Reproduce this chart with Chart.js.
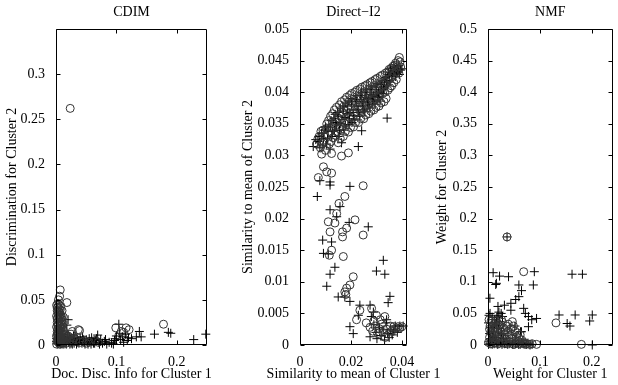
<!DOCTYPE html>
<html><head><meta charset="utf-8">
<script src="https://cdn.jsdelivr.net/npm/chart.js@4/dist/chart.umd.min.js"></script>
<style>
html,body{margin:0;padding:0;background:#fff;width:618px;height:385px;overflow:hidden}
canvas{position:absolute;left:0;top:0}
</style></head><body>
<canvas id="c1" width="618" height="385"></canvas>
<canvas id="c2" width="618" height="385"></canvas>
<canvas id="c3" width="618" height="385"></canvas>
<script>
const titles = ["CDIM", "Direct\u2212I2", "NMF"];
const xLabels = ["Doc. Disc. Info for Cluster 1", "Similarity to mean of Cluster 1", "Weight for Cluster 1"];
const yLabels = ["Discrimination for Cluster 2", "Similarity to mean of Cluster 2", "Weight for Cluster 2"];

const cdimCircles = [[0.0235,0.262],[0.007,0.061],[0.006,0.054],[0.018,0.047],[0.004,0.050],[0.039,0.016],[0.037,0.017],[0.027,0.015],
[0.099,0.019],[0.116,0.019],[0.121,0.017],[0.108,0.015],[0.178,0.023],[0.112,0.014],
[0.001,0.044],[0.003,0.042],[0.005,0.040],[0.002,0.038],[0.006,0.036],[0.004,0.034],[0.008,0.033],[0.001,0.032],[0.003,0.030],[0.007,0.029],
[0.005,0.027],[0.009,0.026],[0.002,0.025],[0.004,0.023],[0.010,0.022],[0.006,0.021],[0.001,0.020],[0.008,0.019],[0.003,0.018],[0.011,0.017],
[0.005,0.016],[0.002,0.015],[0.009,0.014],[0.007,0.013],[0.013,0.012],[0.004,0.011],[0.001,0.010],[0.012,0.009],[0.006,0.008],[0.015,0.008],
[0.003,0.007],[0.010,0.006],[0.018,0.006],[0.002,0.005],[0.007,0.004],[0.014,0.004],[0.022,0.005],[0.004,0.003],[0.011,0.002],[0.017,0.002],
[0.001,0.001],[0.006,0.001],[0.026,0.003],[0.012,0.031],[0.010,0.038],[0.008,0.043],[0.020,0.010],[0.025,0.012],[0.030,0.008],
[0.033,0.006],[0.045,0.004],[0.055,0.003],[0.065,0.005],[0.070,0.003],
[0.002,0.041],[0.004,0.037],[0.006,0.033],[0.002,0.029],[0.005,0.031],[0.007,0.025],[0.003,0.022],[0.008,0.023],[0.006,0.018],[0.004,0.014],
[0.008,0.011],[0.002,0.012],[0.005,0.009],[0.009,0.007],[0.003,0.005],[0.006,0.003],[0.008,0.002],[0.003,0.046],[0.005,0.044],[0.007,0.039],
[0.009,0.031],[0.010,0.028],[0.011,0.020],[0.013,0.015],[0.016,0.011],[0.019,0.009],[0.014,0.006],[0.024,0.008],[0.028,0.005],[0.040,0.003],[0.050,0.002]];
const cdimPluses = [[0.020,0.028],[0.018,0.022],[0.010,0.012],[0.015,0.008],
[0.002,0.002],[0.005,0.006],[0.008,0.003],[0.011,0.008],[0.013,0.001],[0.016,0.005],[0.019,0.009],[0.021,0.003],[0.024,0.006],[0.027,0.001],
[0.029,0.010],[0.032,0.004],[0.035,0.007],[0.038,0.002],[0.041,0.005],[0.044,0.009],[0.047,0.003],[0.050,0.006],[0.053,0.001],[0.056,0.004],
[0.059,0.008],[0.062,0.002],[0.065,0.005],[0.069,0.011],[0.071,0.003],[0.074,0.006],[0.077,0.002],[0.080,0.004],[0.084,0.001],[0.088,0.003],
[0.092,0.002],[0.097,0.005],[0.100,0.010],[0.104,0.023],[0.105,0.013],[0.107,0.006],[0.110,0.009],[0.112,0.003],[0.115,0.012],[0.118,0.005],
[0.120,0.008],[0.125,0.007],[0.133,0.009],[0.141,0.009],[0.138,0.015],[0.163,0.012],[0.186,0.014],[0.190,0.013],[0.228,0.006],[0.248,0.012],
[0.003,0.012],[0.006,0.015],[0.009,0.004],[0.004,0.009],[0.012,0.005],[0.007,0.001],[0.001,0.007],[0.015,0.002],[0.018,0.004],[0.023,0.001],
[0.026,0.004],[0.030,0.002],[0.034,0.001],[0.037,0.005],[0.043,0.002],[0.048,0.001],[0.052,0.003],[0.058,0.001],[0.064,0.002],[0.072,0.001],
[0.082,0.006],[0.095,0.001],[0.098,0.007],
[0.001,0.004],[0.003,0.001],[0.004,0.006],[0.006,0.003],[0.008,0.006],[0.010,0.001],[0.012,0.003],[0.014,0.007],[0.017,0.001],[0.020,0.006],
[0.022,0.008],[0.025,0.002],[0.028,0.005],[0.031,0.007],[0.036,0.003],[0.040,0.008],[0.046,0.006],[0.055,0.007],[0.061,0.004],[0.067,0.007]];

const i2Circles = [[0.0065,0.0318],[0.0075,0.0330],[0.0080,0.0312],[0.0090,0.0340],[0.0095,0.0322],[0.0100,0.0308],[0.0105,0.0350],[0.0110,0.0333],
[0.0115,0.0318],[0.0120,0.0362],[0.0125,0.0345],[0.0130,0.0328],[0.0135,0.0372],[0.0140,0.0355],[0.0145,0.0337],[0.0150,0.0320],[0.0155,0.0380],
[0.0160,0.0363],[0.0165,0.0346],[0.0170,0.0330],[0.0175,0.0388],[0.0180,0.0370],[0.0185,0.0352],[0.0190,0.0337],[0.0195,0.0395],[0.0200,0.0378],
[0.0205,0.0360],[0.0210,0.0345],[0.0215,0.0400],[0.0220,0.0384],[0.0225,0.0368],[0.0230,0.0352],[0.0235,0.0405],[0.0240,0.0390],[0.0245,0.0374],
[0.0250,0.0358],[0.0255,0.0410],[0.0260,0.0395],[0.0265,0.0380],[0.0270,0.0366],[0.0275,0.0415],[0.0280,0.0400],[0.0285,0.0386],[0.0290,0.0372],
[0.0295,0.0420],[0.0300,0.0405],[0.0305,0.0392],[0.0310,0.0378],[0.0315,0.0425],[0.0320,0.0410],[0.0325,0.0398],[0.0330,0.0385],[0.0335,0.0430],
[0.0340,0.0416],[0.0345,0.0403],[0.0350,0.0436],[0.0355,0.0422],[0.0360,0.0410],[0.0365,0.0441],[0.0370,0.0428],[0.0375,0.0446],[0.0380,0.0433],
[0.0385,0.0450],[0.0390,0.0455],[0.0395,0.0440],
[0.0070,0.0326],[0.0082,0.0338],[0.0088,0.0318],[0.0097,0.0331],[0.0103,0.0342],[0.0112,0.0355],[0.0117,0.0338],[0.0122,0.0322],[0.0128,0.0366],
[0.0133,0.0350],[0.0138,0.0332],[0.0143,0.0376],[0.0148,0.0360],[0.0153,0.0343],[0.0158,0.0327],[0.0163,0.0385],[0.0168,0.0368],[0.0173,0.0352],
[0.0178,0.0338],[0.0183,0.0392],[0.0188,0.0376],[0.0193,0.0360],[0.0198,0.0344],[0.0203,0.0398],[0.0208,0.0383],[0.0213,0.0367],[0.0218,0.0352],
[0.0223,0.0403],[0.0228,0.0388],[0.0233,0.0373],[0.0238,0.0358],[0.0243,0.0408],[0.0248,0.0393],[0.0253,0.0378],[0.0258,0.0364],[0.0263,0.0412],
[0.0268,0.0398],[0.0273,0.0383],[0.0278,0.0370],[0.0283,0.0417],[0.0288,0.0403],[0.0293,0.0389],[0.0298,0.0376],[0.0303,0.0422],[0.0308,0.0408],
[0.0313,0.0395],[0.0318,0.0383],[0.0323,0.0427],[0.0328,0.0413],[0.0333,0.0400],[0.0338,0.0390],[0.0343,0.0432],[0.0348,0.0420],[0.0353,0.0407],
[0.0358,0.0438],[0.0363,0.0425],[0.0368,0.0415],[0.0373,0.0443],[0.0378,0.0420],[0.0383,0.0440],[0.0388,0.0430],[0.0393,0.0448],
[0.0085,0.0302],[0.0124,0.0303],[0.0163,0.0299],[0.0190,0.0304],[0.0092,0.0282],[0.0105,0.0274],[0.0124,0.0272],[0.0072,0.0265],[0.0248,0.0252],
[0.0176,0.0235],[0.0153,0.0224],[0.0144,0.0208],[0.0111,0.0195],[0.0137,0.0193],[0.0118,0.0179],[0.0167,0.0179],[0.0167,0.0171],[0.0183,0.0185],
[0.0216,0.0198],[0.0248,0.0174],[0.0124,0.0150],[0.0115,0.0142],[0.0170,0.0140],[0.0209,0.0108],[0.0196,0.0095],[0.0183,0.0090],[0.0176,0.0084],
[0.0180,0.0080],[0.0235,0.0055],[0.0222,0.0040],[0.0281,0.0058],[0.0300,0.0047],[0.0333,0.0045],[0.0260,0.0035],[0.0275,0.0028],[0.0285,0.0022],
[0.0295,0.0030],[0.0305,0.0018],[0.0310,0.0026],[0.0320,0.0033],[0.0325,0.0020],[0.0335,0.0012],[0.0340,0.0025],[0.0348,0.0017],[0.0355,0.0030],
[0.0360,0.0022],[0.0368,0.0029],[0.0375,0.0026],[0.0385,0.0029],[0.0392,0.0027],[0.0400,0.0029],[0.0290,0.0038],[0.0315,0.0040]];
const i2Pluses = [[0.0052,0.0314],[0.0070,0.0322],[0.0085,0.0335],[0.0090,0.0315],[0.0100,0.0345],[0.0108,0.0326],[0.0118,0.0310],[0.0122,0.0355],
[0.0128,0.0338],[0.0138,0.0365],[0.0143,0.0348],[0.0150,0.0330],[0.0158,0.0375],[0.0163,0.0320],[0.0165,0.0357],[0.0172,0.0340],[0.0180,0.0383],
[0.0185,0.0366],[0.0192,0.0349],[0.0200,0.0390],[0.0208,0.0372],[0.0213,0.0356],[0.0220,0.0395],[0.0228,0.0378],[0.0234,0.0362],[0.0242,0.0400],
[0.0248,0.0385],[0.0254,0.0369],[0.0262,0.0405],[0.0268,0.0390],[0.0274,0.0375],[0.0282,0.0410],[0.0288,0.0395],[0.0294,0.0381],[0.0302,0.0414],
[0.0308,0.0400],[0.0314,0.0386],[0.0322,0.0418],[0.0328,0.0405],[0.0336,0.0423],[0.0342,0.0410],[0.0348,0.0432],[0.0355,0.0437],[0.0360,0.0426],
[0.0365,0.0432],[0.0372,0.0438],[0.0378,0.0430],[0.0385,0.0436],[0.0400,0.0437],[0.0229,0.0314],[0.0242,0.0339],[0.0342,0.0359],
[0.0062,0.0325],[0.0078,0.0312],[0.0095,0.0340],[0.0104,0.0318],[0.0113,0.0348],[0.0125,0.0330],[0.0133,0.0358],[0.0147,0.0368],[0.0155,0.0340],
[0.0168,0.0378],[0.0176,0.0360],[0.0189,0.0386],[0.0196,0.0368],[0.0204,0.0352],[0.0217,0.0388],[0.0224,0.0372],[0.0238,0.0395],[0.0245,0.0378],
[0.0258,0.0400],[0.0265,0.0383],[0.0278,0.0404],[0.0285,0.0388],[0.0298,0.0408],[0.0305,0.0393],[0.0318,0.0412],[0.0325,0.0398],[0.0332,0.0415],
[0.0345,0.0425],[0.0352,0.0418],[0.0368,0.0440],[0.0375,0.0425],[0.0382,0.0432],[0.0390,0.0428],[0.0395,0.0435],
[0.0075,0.0330],[0.0092,0.0327],[0.0110,0.0338],[0.0120,0.0345],[0.0135,0.0340],[0.0140,0.0352],[0.0152,0.0362],[0.0160,0.0350],[0.0170,0.0370],
[0.0178,0.0348],[0.0186,0.0378],[0.0194,0.0358],[0.0202,0.0380],[0.0210,0.0363],[0.0222,0.0385],[0.0230,0.0368],[0.0240,0.0388],[0.0250,0.0372],
[0.0260,0.0392],[0.0270,0.0380],[0.0280,0.0396],[0.0290,0.0386],[0.0300,0.0400],[0.0310,0.0392],[0.0320,0.0404],[0.0330,0.0408],[0.0340,0.0418],
[0.0350,0.0428],[0.0358,0.0430],[0.0370,0.0434],[0.0380,0.0440],[0.0388,0.0442],
[0.0078,0.0260],[0.0118,0.0258],[0.0118,0.0253],[0.0196,0.0251],[0.0068,0.0235],[0.0118,0.0214],[0.0157,0.0219],[0.0144,0.0203],[0.0193,0.0194],
[0.0268,0.0187],[0.0089,0.0166],[0.0124,0.0163],[0.0092,0.0145],[0.0111,0.0144],[0.0137,0.0123],[0.0118,0.0112],[0.0105,0.0093],[0.0327,0.0134],
[0.0300,0.0117],[0.0333,0.0112],[0.0353,0.0077],[0.0346,0.0067],[0.0150,0.0076],[0.0176,0.0076],[0.0196,0.0069],[0.0275,0.0063],[0.0235,0.0063],
[0.0229,0.0047],[0.0196,0.0029],[0.0209,0.0018],[0.0275,0.0013],[0.0280,0.0045],[0.0290,0.0032],[0.0298,0.0020],[0.0302,0.0010],[0.0312,0.0028],
[0.0318,0.0015],[0.0326,0.0024],[0.0332,0.0008],[0.0338,0.0035],[0.0344,0.0018],[0.0350,0.0012],[0.0356,0.0025],[0.0362,0.0016],[0.0368,0.0022],
[0.0374,0.0030],[0.0382,0.0020],[0.0392,0.0030],[0.0405,0.0030],[0.0288,0.0052],[0.0340,0.0040]];

const nmfCircles = [[0.002,0.040],[0.004,0.030],[0.006,0.020],[0.003,0.012],[0.008,0.035],[0.010,0.025],[0.012,0.015],[0.009,0.008],[0.015,0.038],
[0.016,0.028],[0.018,0.020],[0.017,0.010],[0.022,0.032],[0.024,0.022],[0.021,0.014],[0.025,0.006],[0.028,0.036],[0.030,0.027],[0.031,0.017],
[0.033,0.009],[0.036,0.030],[0.038,0.021],[0.040,0.012],[0.042,0.005],[0.044,0.026],[0.046,0.017],[0.048,0.009],[0.052,0.022],[0.055,0.013],
[0.058,0.006],[0.062,0.016],[0.065,0.008],[0.070,0.004],[0.075,0.002],[0.080,0.001],[0.001,0.004],[0.005,0.002],[0.014,0.003],[0.020,0.002],
[0.035,0.002],[0.050,0.001],[0.060,0.002],[0.047,0.037],[0.0367,0.171],[0.0688,0.116],[0.131,0.035],[0.180,0.001],[0.0936,0.001],
[0.006,0.038],[0.011,0.032],[0.013,0.007],[0.019,0.034],[0.023,0.027],[0.027,0.012],[0.029,0.003],[0.034,0.024],[0.039,0.033],[0.041,0.016],
[0.045,0.010],[0.049,0.030],[0.053,0.004],[0.057,0.019],[0.060,0.010],[0.067,0.003],[0.072,0.001],[0.085,0.002],[0.008,0.016],[0.003,0.025],
[0.026,0.040],[0.014,0.020]];
const nmfPluses = [[0.0367,0.171],[0.0893,0.116],[0.0099,0.1144],[0.0223,0.109],[0.0396,0.108],[0.0162,0.0976],[0.0149,0.0957],[0.0595,0.095],
[0.0874,0.095],[0.0646,0.086],[0.0037,0.074],[0.0595,0.0765],[0.0534,0.072],[0.0441,0.066],[0.0316,0.063],[0.0192,0.061],[0.0441,0.055],
[0.0688,0.058],[0.072,0.050],[0.078,0.045],[0.0936,0.042],[0.0843,0.040],[0.078,0.029],[0.0627,0.021],[0.162,0.112],[0.182,0.112],[0.137,0.0475],
[0.168,0.0475],[0.1526,0.034],[0.158,0.030],[0.201,0.0475],[0.196,0.038],[0.201,0.0],[0.081,0.0],
[0.002,0.047],[0.004,0.050],[0.013,0.040],[0.019,0.047],[0.0254,0.050],[0.008,0.044],[0.016,0.036],[0.006,0.028],[0.011,0.022],[0.003,0.018],
[0.020,0.026],[0.026,0.018],[0.015,0.012],[0.007,0.008],[0.030,0.010],[0.002,0.005],[0.010,0.003],[0.018,0.001],[0.024,0.004],[0.032,0.002],
[0.038,0.001],[0.044,0.003],[0.050,0.001],[0.056,0.003],[0.062,0.001],[0.068,0.002],[0.074,0.001],[0.0645,0.021],[0.052,0.030],[0.001,0.001],
[0.004,0.002],[0.008,0.001],[0.012,0.002],[0.016,0.004],[0.021,0.002],[0.027,0.001],[0.029,0.005],[0.035,0.003],[0.041,0.002],[0.047,0.001],
[0.053,0.002],[0.059,0.001],[0.065,0.003],[0.071,0.002],[0.077,0.003],[0.085,0.001],[0.005,0.010],[0.009,0.014],[0.012,0.030],[0.022,0.037],
[0.017,0.044],[0.001,0.035],[0.028,0.045],[0.021,0.052]];

const F = "'Liberation Serif','Times New Roman',serif";
const fmt = v => String(+(+v).toFixed(4));

const boxTicks = {id:'boxTicks', afterDraw(chart, args, opts){
  const ctx = chart.ctx, a = chart.chartArea, xs = chart.scales.x, ys = chart.scales.y;
  ctx.save(); ctx.strokeStyle = '#000'; ctx.lineWidth = 1; ctx.beginPath();
  const L = Math.round(a.left)+0.5, R = Math.round(a.right)-0.5, T = Math.round(a.top)+0.5, B = Math.round(a.bottom)-0.5;
  ctx.rect(L, T, R-L, B-T);
  const tl = 4;
  xs.ticks.forEach(t => { const p = Math.round(xs.getPixelForValue(t.value))+0.5; ctx.moveTo(p,B); ctx.lineTo(p,B-tl); ctx.moveTo(p,T); ctx.lineTo(p,T+tl); });
  ys.ticks.forEach(t => { const p = Math.round(ys.getPixelForValue(t.value))+0.5; ctx.moveTo(L,p); ctx.lineTo(L+tl,p); ctx.moveTo(R,p); ctx.lineTo(R-tl,p); });
  ctx.stroke();
  if (opts && opts.xlabel) {
    ctx.fillStyle = '#000'; ctx.font = "14px " + F; ctx.textAlign = 'center'; ctx.textBaseline = 'middle';
    ctx.fillText(opts.xlabel, (a.left + a.right) / 2, 374);
  }
  ctx.restore();
}};

function mk(id, circ, plus, o){
  const font = {family:F, size:14, weight:'normal'};
  new Chart(document.getElementById(id), {
    type:'scatter',
    data:{datasets:[
      {data:circ.map(([x,y])=>({x,y})), pointStyle:'circle', pointRadius:4, pointBorderColor:'#333', pointBackgroundColor:'rgba(0,0,0,0)', pointBorderWidth:1, clip:false},
      {data:plus.map(([x,y])=>({x,y})), pointStyle:'cross', pointRadius:4.5, pointBorderColor:'#000', pointBorderWidth:1, clip:false}
    ]},
    options:{responsive:false, animation:false, events:[],
      layout:{padding:{left:o.padL, right:o.padR, top:0, bottom:0}},
      plugins:{legend:{display:false}, tooltip:{enabled:false},
        boxTicks:{xlabel:o.xlabel},
        title:{display:true, text:o.title, fullSize:false, color:'#000', font:font, padding:{top:3.6, bottom:29-3.6-16.8}}},
      scales:{
        x:{type:'linear', min:0, max:o.xmax, afterFit:s=>{s.height=40;},
          grid:{display:false}, border:{display:false},
          ticks:{stepSize:o.xstep, includeBounds:false, autoSkip:false, maxRotation:0, padding:1, color:'#000', font:font, callback:fmt},
          title:{display:false}},
        y:{type:'linear', min:0, max:o.ymax, afterFit:s=>{s.width=o.yw;},
          grid:{display:false}, border:{display:false},
          ticks:{stepSize:o.ystep, includeBounds:false, autoSkip:false, padding:3, color:'#000', font:font, callback:fmt},
          title:{display:true, text:o.ylabel, color:'#000', font:font, padding:{top:3.6, bottom:0}}}
      }
    },
    plugins:[boxTicks]
  });
}

mk('c1', cdimCircles, cdimPluses, {title:titles[0], xlabel:xLabels[0], ylabel:yLabels[0], padL:0, yw:56, padR:411, xmax:0.25, xstep:0.1, ymax:0.3499, ystep:0.05});
mk('c2', i2Circles, i2Pluses, {title:titles[1], xlabel:xLabels[1], ylabel:yLabels[1], padL:236, yw:64, padR:211, xmax:0.042, xstep:0.02, ymax:0.05, ystep:0.005});
mk('c3', nmfCircles, nmfPluses, {title:titles[2], xlabel:xLabels[2], ylabel:yLabels[2], padL:430, yw:58, padR:1, xmax:0.24, xstep:0.1, ymax:0.5, ystep:0.05});
</script>
</body></html>
